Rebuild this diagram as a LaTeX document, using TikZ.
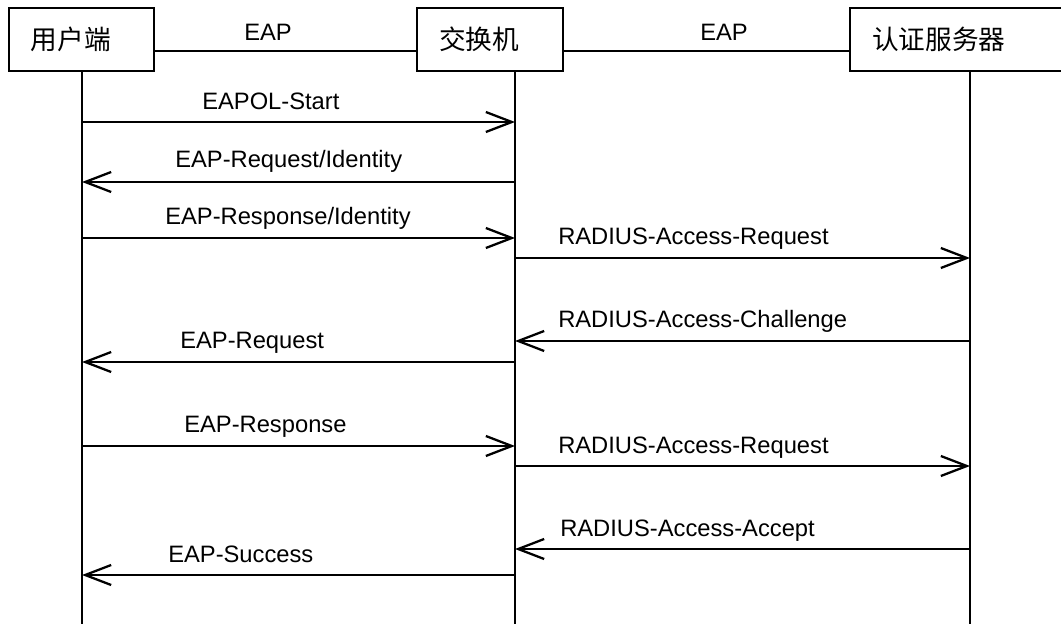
\documentclass[tikz,border=0pt]{standalone}
\usepackage{fontspec}
\setmainfont{Liberation Sans}
\newfontfamily\cjk{Noto Sans CJK SC}
\usetikzlibrary{arrows.meta}
\begin{document}
\begin{tikzpicture}[x=0.75pt,y=-0.75pt,
  box/.style={draw, line width=1.5pt, minimum height=47.25pt, inner xsep=16.5pt, inner ysep=0pt, align=left, font=\cjk\fontsize{20}{24}\selectfont},
  life/.style={line width=1.7pt},
  msg/.style={line width=1.7pt, -{Straight Barb[length=19.5pt,width=15pt,line width=1.7pt]}},
  lbl/.style={anchor=base west, inner sep=0pt, font=\fontsize{17.8}{20}\selectfont},
  hdr/.style={anchor=base, inner sep=0pt, font=\fontsize{17.8}{20}\selectfont}]
\clip (0,0) rectangle (1061,624);
\fill[white] (0,0) rectangle (1061,624);
% participants
\node[box, text width=75.75pt] (u) at (81.5,39.5) {用户端};
\node[box, text width=76.5pt] (s) at (490,39.5) {交换机};
\node[box, text width=139.5pt] (a) at (965,39.5) {认证服务器};
% lifeline ends
\coordinate (ub) at (82,624);
\coordinate (sb) at (515,624);
\coordinate (ab) at (970,624);
\draw[life] (u.south -| ub) -- (ub);
\draw[life] (s.south -| sb) -- (sb);
\draw[life] (a.south -| ab) -- (ab);
% header links
\draw[life] ([yshift=-8.6pt]u.east) -- ([yshift=-8.6pt]s.west);
\draw[life] ([yshift=-8.6pt]s.east) -- ([yshift=-8.6pt]a.west);
\node[hdr] (e1) at (268,41) {EAP};
\node[hdr] (e2) at (724,41) {EAP};
% message end points
\foreach \n/\y in {1/122,2/182,3/238,4/258,5/341,6/362,7/446,8/466,9/549,10/575}{
  \coordinate (u\n) at (82,\y);
  \coordinate (s\n) at (515,\y);
  \coordinate (a\n) at (970,\y);
}
\draw[msg] (u1) -- (s1);
\node[lbl] (l1) at (202,110) {EAPOL-Start};
\draw[msg] (s2) -- (u2);
\node[lbl] (l2) at (175,168) {EAP-Request/Identity};
\draw[msg] (u3) -- (s3);
\node[lbl] (l3) at (165,225) {EAP-Response/Identity};
\draw[msg] (s4) -- (a4);
\node[lbl] (l4) at (558,245) {RADIUS-Access-Request};
\draw[msg] (a5) -- (s5);
\node[lbl] (l5) at (558,327) {RADIUS-Access-Challenge};
\draw[msg] (s6) -- (u6);
\node[lbl] (l6) at (180,348) {EAP-Request};
\draw[msg] (u7) -- (s7);
\node[lbl] (l7) at (184,432) {EAP-Response};
\draw[msg] (s8) -- (a8);
\node[lbl] (l8) at (558,453) {RADIUS-Access-Request};
\draw[msg] (a9) -- (s9);
\node[lbl] (l9) at (560,536) {RADIUS-Access-Accept};
\draw[msg] (s10) -- (u10);
\node[lbl] (l10) at (168,562) {EAP-Success};
\end{tikzpicture}
\end{document}
